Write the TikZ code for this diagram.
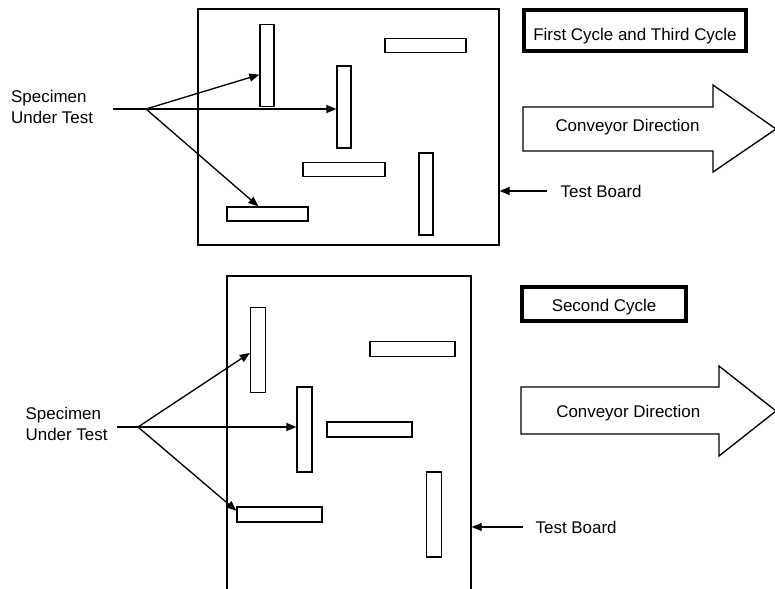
\documentclass[tikz,border=0pt]{standalone}
\usepackage{fontspec}
\setmainfont{Liberation Sans}
\usetikzlibrary{arrows.meta, positioning}

\begin{document}
\begin{tikzpicture}[x=0.75pt, y=-0.75pt, line width=1pt,
  font=\fontsize{12.7}{15.5}\selectfont,
  >={Triangle[length=7.5pt, width=6pt]},
  specimen/.style 2 args={draw, inner sep=0pt, minimum width=#1*0.75pt, minimum height=#2*0.75pt},
  board/.style 2 args={draw, inner sep=0pt, minimum width=#1*0.75pt, minimum height=#2*0.75pt},
  cyclebox/.style 2 args={draw, line width=3pt, inner sep=0pt, text depth=0pt, minimum width=#1*0.75pt, minimum height=#2*0.75pt},
  caption/.style={inner sep=0pt, anchor=base west},
  specname/.style={inner sep=0pt, anchor=north west, align=left}]
  \useasboundingbox (0,0) rectangle (775,589);
  \clip (0,0) rectangle (775,589);

  % First and third cycle: board with specimens
  \node[board={301}{236}] (boardA) at (348.5,127) {};
  \node[specimen={14}{82}] (vA1) at (267,65.5) {};
  \node[specimen={81}{14}] (hA1) at (425.5,45.5) {};
  \node[specimen={14}{82}] (vA2) at (344,107) {};
  \node[specimen={82}{14}] (hA2) at (344,169.5) {};
  \node[specimen={14}{82}] (vA3) at (426,194) {};
  \node[specimen={81}{14}] (hA3) at (267.5,214) {};

  \node[specname] (specA) at (10.5,90) {Specimen\\Under Test};
  \coordinate (tailA) at (113,109);
  \coordinate (fanA) at (146,109);
  \draw (tailA) -- (fanA);
  \draw[->] (fanA) -- (vA1.230);
  \draw[->] (fanA) -- (fanA -| vA2.west);
  \draw[->] (fanA) -- (hA3.140);

  \node[caption] (tbA) at (560,197.3) {Test Board};
  \coordinate (tbAtail) at (547,191);
  \draw[->] (tbAtail) -- (tbAtail -| boardA.east);

  \node[cyclebox={222}{41}, text height=15pt] (cycA) at (635,30) {First Cycle and Third Cycle};
  \draw (523,107) -- (713,107) -- (713,85) -- (776,129) -- (713,172) -- (713,151) -- (523,151) -- cycle;
  \node[anchor=base, inner sep=0pt] (convA) at (627.5,131.5) {Conveyor Direction};

  % Second cycle: board with specimens
  \node[board={244}{344}] (boardB) at (349,448) {};
  \node[specimen={15}{85}] (vB1) at (258,350) {};
  \node[specimen={85}{15}] (hB1) at (412.5,349) {};
  \node[specimen={15}{85}] (vB2) at (304.5,429.5) {};
  \node[specimen={85}{15}] (hB2) at (369.5,429.5) {};
  \node[specimen={15}{85}] (vB3) at (434,514.5) {};
  \node[specimen={85}{15}] (hB3) at (279.5,514.5) {};

  \node[specname] (specB) at (25,406.7) {Specimen\\Under Test};
  \coordinate (tailB) at (117,427);
  \coordinate (fanB) at (138,427);
  \draw (tailB) -- (fanB);
  \draw[->] (fanB) -- (vB1.200);
  \draw[->] (fanB) -- (fanB -| vB2.west);
  \draw[->] (fanB) -- (hB3.175);

  \node[caption] (tbB) at (535,533.3) {Test Board};
  \coordinate (tbBtail) at (523,527);
  \draw[->] (tbBtail) -- (tbBtail -| boardB.east);

  \node[cyclebox={164}{34}, text height=11.5pt] (cycB) at (604,304) {Second Cycle};
  \draw (521,387) -- (719,387) -- (719,366) -- (776,411) -- (719,456) -- (719,434) -- (521,434) -- cycle;
  \node[anchor=base, inner sep=0pt] (convB) at (628.3,417.5) {Conveyor Direction};
\end{tikzpicture}
\end{document}
